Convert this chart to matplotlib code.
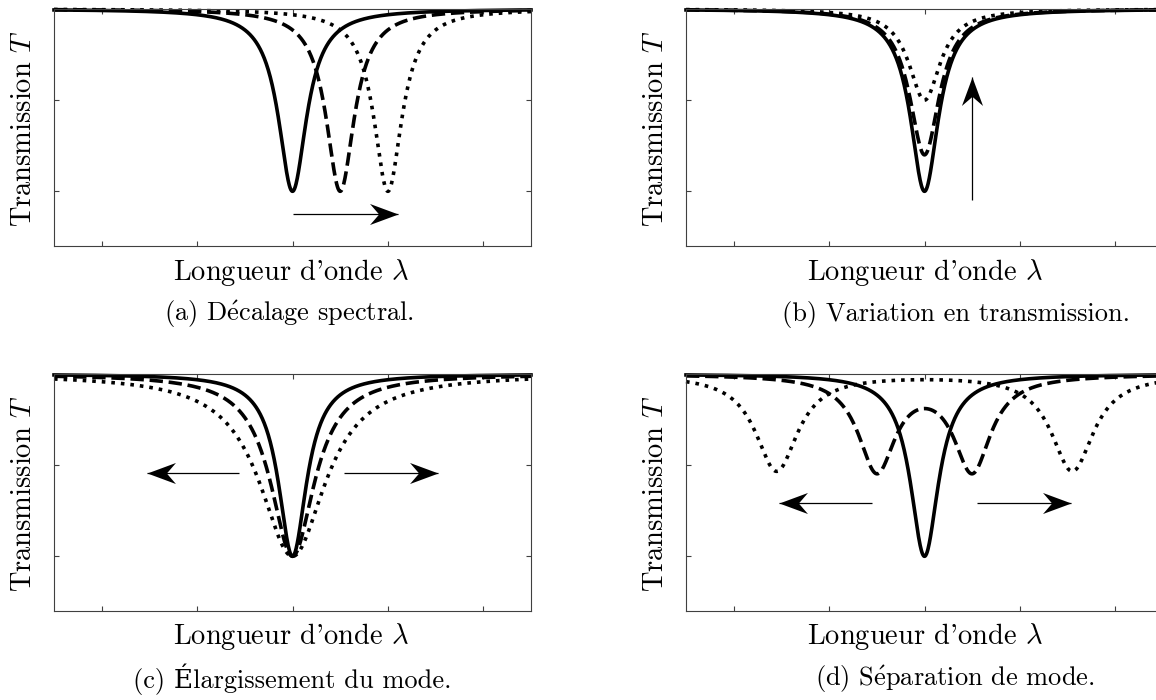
import numpy as np
import matplotlib
matplotlib.use("Agg")
import matplotlib.pyplot as plt
from matplotlib.path import Path
from matplotlib.markers import MarkerStyle
from matplotlib.transforms import Affine2D

plt.rcParams['font.family'] = ['cmr10', 'DejaVu Serif']
plt.rcParams['mathtext.fontset'] = 'cm'
plt.rcParams['axes.formatter.use_mathtext'] = True

# wavelength axis (arbitrary units, resonance at 0)
wl = np.linspace(-2.5, 2.5, 1201)

# Lorentzian dips: centres, half-width, depth
# (a) spectral shift
a_centers = [[0.0], [0.5], [1.0]]
a_widths = [0.18, 0.18, 0.18]
a_depths = [1.0, 1.0, 1.0]
# (b) transmission change
b_centers = [[0.0], [0.0], [0.0]]
b_widths = [0.18, 0.19, 0.20]
b_depths = [1.0, 0.8, 0.5]
# (c) mode broadening
c_centers = [[0.0], [0.0], [0.0]]
c_widths = [0.18, 0.28, 0.42]
c_depths = [1.0, 1.0, 1.0]
# (d) mode splitting
d_centers = [[0.0], [-0.5, 0.5], [-1.55, 1.55]]
d_widths = [0.18, 0.236, 0.27]
d_depths = [1.0, 0.52, 0.53]

# arrows (x0, y0, x1, y1) in data units
a_arrows = [(0.0, -0.125, 1.11, -0.125)]
b_arrows = [(0.5, -0.045, 0.5, 0.625)]
c_arrows = [(-0.56, 0.457, -1.53, 0.457), (0.54, 0.457, 1.52, 0.457)]
d_arrows = [(-0.55, 0.29, -1.52, 0.29), (0.55, 0.29, 1.54, 0.29)]

e_acute = r'$\mathrm{\acute{e}}$'
captions = ["(a) D" + e_acute + "calage spectral.", "(b) Variation en transmission.",
            "(c) Élargissement du mode.", "(d) S" + e_acute + "paration de mode."]

styles = ['-', '--', ':']

W, H = 1156, 700
fig = plt.figure(figsize=(W / 100, H / 100), dpi=100)

head = Path([(0, 0), (-1, 0.37), (-0.68, 0), (-1, -0.37), (0, 0)],
            [Path.MOVETO, Path.LINETO, Path.LINETO, Path.LINETO, Path.CLOSEPOLY])


def dip(x, centers, g, A):
    t = np.ones_like(x)
    for c in centers:
        t -= A / (1 + ((x - c) / g) ** 2)
    return t


def arrow(ax, x0, y0, x1, y1):
    if x1 > x0:
        ang = 0
    elif x1 < x0:
        ang = 180
    else:
        ang = 90
    ax.plot([x0, x1], [y0, y1], color='k', lw=0.9, solid_capstyle='butt')
    ax.plot(x1, y1, marker=MarkerStyle(head, transform=Affine2D().rotate_deg(ang)),
            ms=41, color='k', mec='none')


panels = [
    (54, 9, a_centers, a_widths, a_depths, a_arrows, 291, 289),
    (686, 9, b_centers, b_widths, b_depths, b_arrows, 925, 956),
    (54, 374, c_centers, c_widths, c_depths, c_arrows, 291, 292),
    (686, 374, d_centers, d_widths, d_depths, d_arrows, 925, 955),
]

for i, (px, py, cents, gs, deps, arrs, xlab_x, cap_x) in enumerate(panels):
    ax = fig.add_axes([px / W, 1 - (py + 237) / H, 477 / W, 237 / H])
    for cs, g, A, ls in zip(cents, gs, deps, styles):
        ax.plot(wl, dip(wl, cs, g, A), color='k', lw=2.6, ls=ls, clip_on=False)
    for a in arrs:
        arrow(ax, *a)
    ax.set_xlim(-2.5, 2.5)
    ax.set_ylim(-0.3, 1.0)
    ax.set_xticks([-2, -1, 0, 1, 2])
    ax.set_yticks([0, 0.5, 1])
    ax.tick_params(direction='in', length=3.6, width=0.8, color='0.25',
                   top=True, right=True, labelbottom=False, labelleft=False)
    for s in ax.spines.values():
        s.set_linewidth(0.8)
        s.set_color('0.25')

    fig.text((px - 30) / W, 1 - (py + 120) / H, r'Transmission $T$', rotation=90,
             ha='center', va='center', fontsize=20.5)
    fig.text(xlab_x / W, 1 - (py + 263) / H, "Longueur d'onde $\\lambda$",
             ha='center', va='center', fontsize=20.5)
    fig.text(cap_x / W, 1 - (py + 305) / H, captions[i],
             ha='center', va='center', fontsize=19)

fig.savefig("out.png", dpi=100)
